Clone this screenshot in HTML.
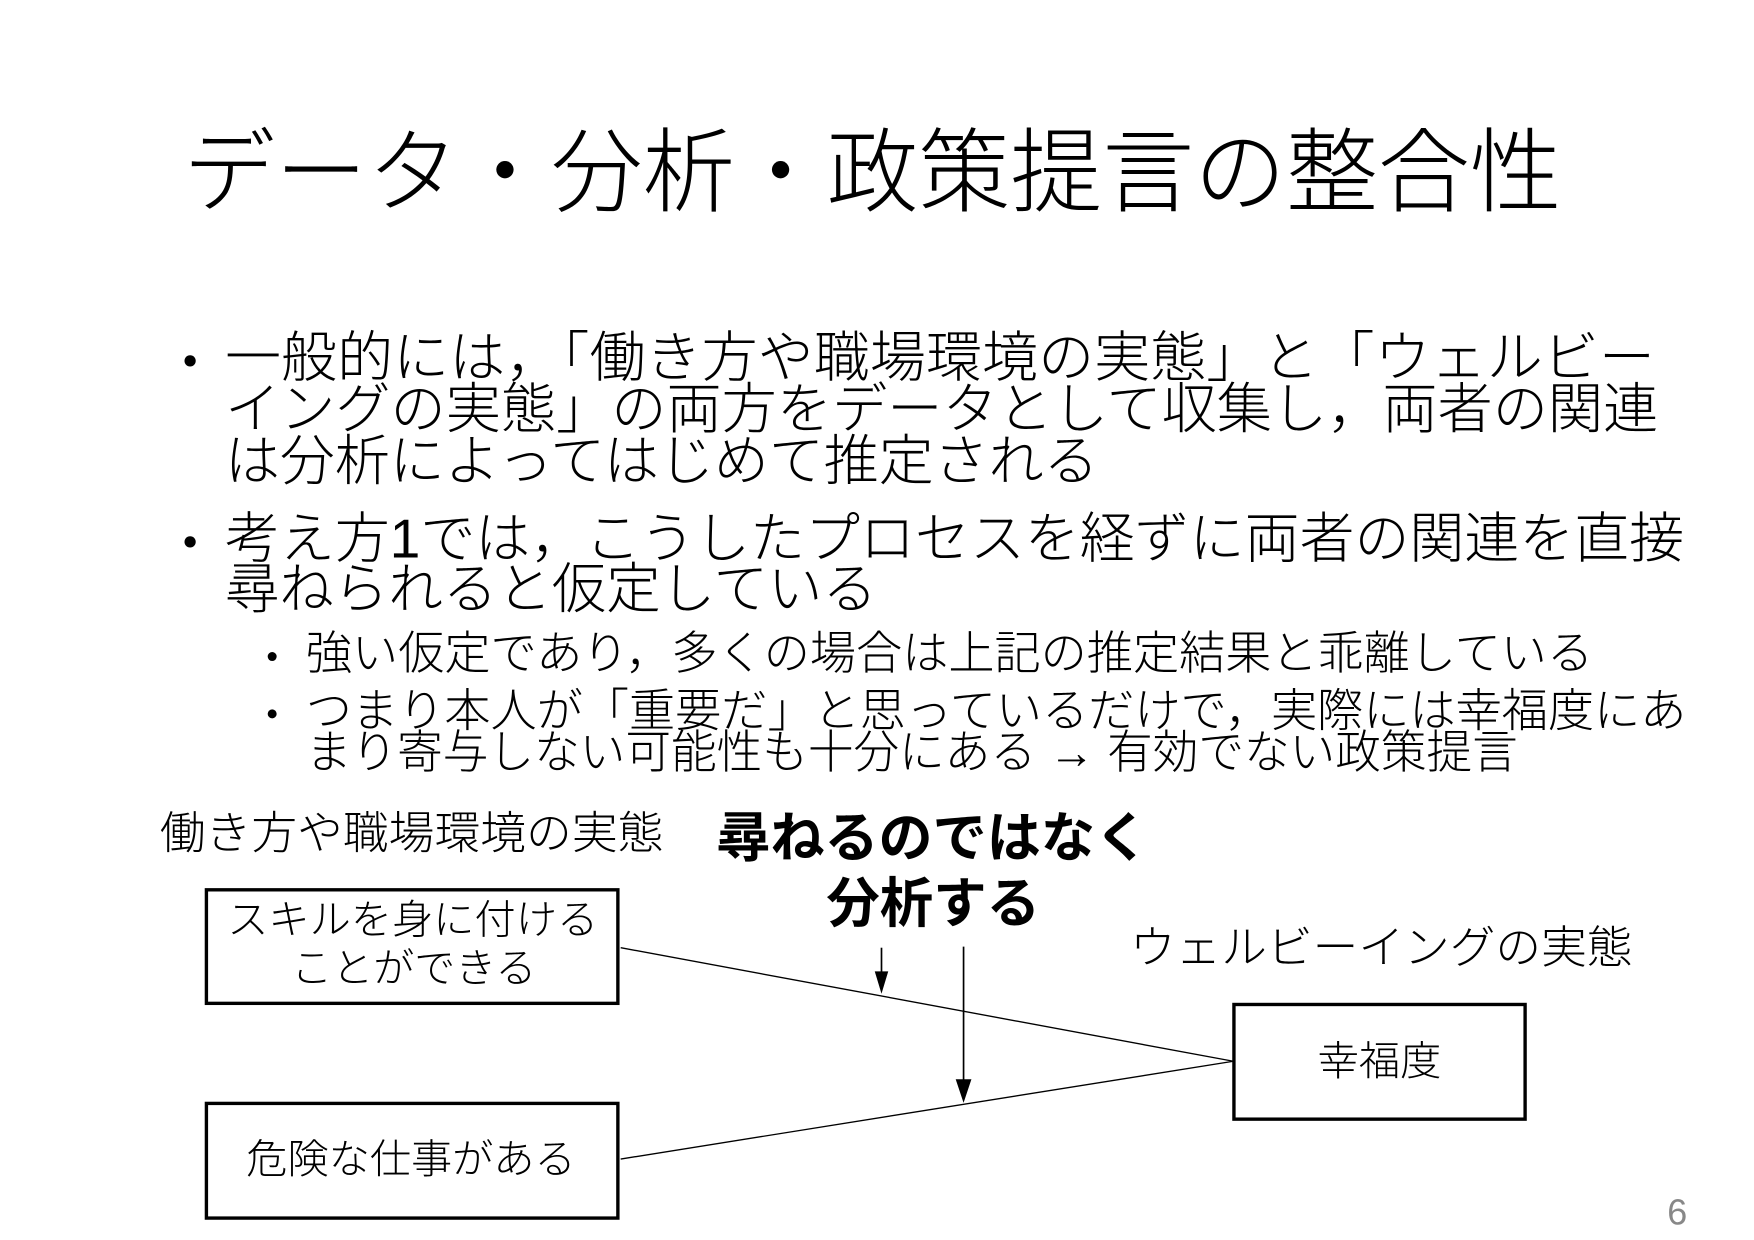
<!DOCTYPE html>
<html><head><meta charset="utf-8"><style>
html,body{margin:0;padding:0;background:#fff;}
svg{display:block;}
text{font-family:"Liberation Sans","Noto Sans CJK JP",sans-serif;fill:#000;}
.l{font-weight:300;}
</style></head><body>
<svg width="1754" height="1240" viewBox="0 0 1560 1103" xmlns="http://www.w3.org/2000/svg">
<rect width="1560" height="1103" fill="#fff"/>
<g transform="translate(-3,-4)">
<g dominant-baseline="central">
<text class="l" x="166" y="158" font-size="82" textLength="1226" lengthAdjust="spacingAndGlyphs">データ・分析・政策提言の整合性</text>

<circle cx="172" cy="325" r="5" fill="#000"/>
<text class="l" x="203" y="322" font-size="49" textLength="1272" lengthAdjust="spacingAndGlyphs">一般的には，「働き方や職場環境の実態」と「ウェルビー</text>
<text class="l" x="203" y="368" font-size="49" textLength="1275" lengthAdjust="spacingAndGlyphs">イングの実態」の両方をデータとして収集し，両者の関連</text>
<text class="l" x="203" y="414" font-size="49" textLength="777" lengthAdjust="spacingAndGlyphs">は分析によってはじめて推定される</text>

<circle cx="172" cy="486" r="5" fill="#000"/>
<text class="l" x="203" y="483" font-size="49" textLength="1298" lengthAdjust="spacingAndGlyphs">考え方1では，こうしたプロセスを経ずに両者の関連を直接</text>
<text class="l" x="203" y="528" font-size="49" textLength="580" lengthAdjust="spacingAndGlyphs">尋ねられると仮定している</text>

<circle cx="245" cy="588" r="4" fill="#000"/>
<text class="l" x="275" y="585" font-size="41" textLength="1145" lengthAdjust="spacingAndGlyphs">強い仮定であり，多くの場合は上記の推定結果と乖離している</text>
<circle cx="245" cy="639" r="4" fill="#000"/>
<text class="l" x="275" y="636" font-size="41" textLength="1228" lengthAdjust="spacingAndGlyphs">つまり本人が「重要だ」と思っているだけで，実際には幸福度にあ</text>
<text class="l" x="275" y="673" font-size="41" textLength="1078" lengthAdjust="spacingAndGlyphs">まり寄与しない可能性も十分にある → 有効でない政策提言</text>

<text class="l" x="145" y="745" font-size="40" textLength="448" lengthAdjust="spacingAndGlyphs">働き方や職場環境の実態</text>
<text x="640" y="750" font-size="48" font-weight="bold" textLength="385" lengthAdjust="spacingAndGlyphs">尋ねるのではなく</text>
<text x="738" y="808" font-size="48" font-weight="bold" textLength="190" lengthAdjust="spacingAndGlyphs">分析する</text>
<text class="l" x="1008" y="847" font-size="40" textLength="447" lengthAdjust="spacingAndGlyphs">ウェルビーイングの実態</text>

<text class="l" x="205" y="822" font-size="36" textLength="330" lengthAdjust="spacingAndGlyphs">スキルを身に付ける</text>
<text class="l" x="262" y="865" font-size="36" textLength="218" lengthAdjust="spacingAndGlyphs">ことができる</text>
<text class="l" x="222" y="1035" font-size="36" textLength="293" lengthAdjust="spacingAndGlyphs">危険な仕事がある</text>
<text class="l" x="1175" y="948" font-size="36" textLength="110" lengthAdjust="spacingAndGlyphs">幸福度</text>

<text x="1486" y="1082" font-size="32" style="fill:#888">6</text>
</g>
<g fill="none" stroke="#000">
<rect x="186.5" y="795.5" width="366" height="101" stroke-width="3"/>
<rect x="186.5" y="985.5" width="366" height="102" stroke-width="3"/>
<rect x="1100.5" y="897.5" width="259" height="102" stroke-width="3"/>
<line x1="555" y1="847" x2="1100" y2="948" stroke-width="1.2"/>
<line x1="555" y1="1035" x2="1100" y2="948" stroke-width="1.2"/>
<line x1="787" y1="847" x2="787" y2="872" stroke-width="1.5"/>
<line x1="860" y1="846" x2="860" y2="968" stroke-width="1.5"/>
</g>
<polygon points="781,868 793,868 787,888" fill="#000"/>
<polygon points="853,964 867,964 860,985" fill="#000"/>
</g>
</svg>
</body></html>
